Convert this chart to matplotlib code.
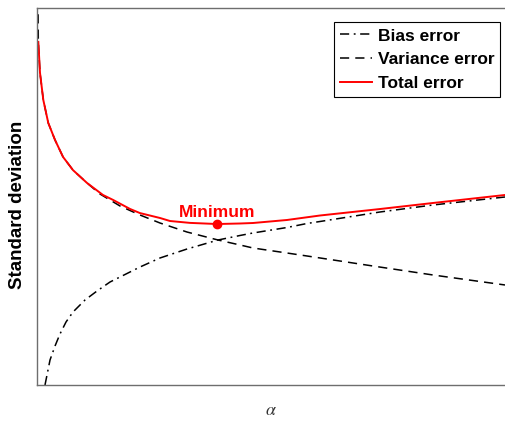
import matplotlib
matplotlib.use("Agg")
import matplotlib.pyplot as plt

plt.rcParams['font.family'] = ['Liberation Sans', 'DejaVu Sans']
plt.rcParams['mathtext.fontset'] = 'stix'

# curves as (alpha, std) pairs, both on a 0-100 scale
alpha_bias = [1.71, 2.78, 3.85, 4.91, 6.20, 7.69, 10.26, 12.82, 15.60, 17.74,
              22.01, 26.28, 32.05, 38.68, 43.38, 46.15, 53.42, 57.69, 60.47,
              73.29, 84.62, 100]
bias = [0.0, 6.63, 10.34, 13.53, 16.71, 19.36, 22.55, 24.93, 27.32, 28.65,
        31.30, 33.69, 36.07, 38.46, 39.66, 40.32, 41.78, 42.84, 43.37,
        45.89, 47.75, 49.87]

alpha_var = [0.06, 0.28, 0.64, 1.35, 2.41, 3.85, 5.56, 7.69, 10.68, 13.46,
             17.74, 22.01, 26.28, 32.05, 38.68, 43.38, 46.15, 53.42, 57.69,
             71.79, 84.62, 100]
variance = [130, 91.0, 82.8, 75.6, 69.5, 65.0, 60.5, 57.0, 53.6, 50.66,
            47.48, 45.09, 42.97, 40.58, 38.46, 37.14, 36.34, 35.01, 34.22,
            31.56, 29.18, 26.53]

alpha_tot = [0.28, 0.64, 1.35, 2.41, 3.85, 5.56, 7.69, 10.68, 14.10, 16.24,
             19.87, 22.01, 26.28, 28.42, 32.69, 38.5, 43.38, 46.15, 53.42,
             60.47, 73.29, 84.62, 100]
total = [91.0, 82.8, 75.6, 69.5, 65.0, 60.5, 57.0, 53.6, 50.4, 49.1,
         46.7, 45.6, 44.3, 43.5, 43.0, 42.7, 42.84, 42.97, 43.77,
         44.96, 46.68, 48.28, 50.4]

min_alpha, min_std = 38.5, 42.7

fig = plt.figure(figsize=(5.05, 4.21), dpi=100)
ax = fig.add_axes([37 / 505, 36 / 421, 468 / 505, 377 / 421])

ax.plot(alpha_bias, bias, color='black', lw=1.1, dashes=(6, 3, 1.2, 3), label='Bias error')
ax.plot(alpha_var, variance, color='black', lw=1.1, dashes=(6, 4), label='Variance error')
ax.plot(alpha_tot, total, color='red', lw=1.4, label='Total error')
ax.plot(min_alpha, min_std, 'o', color='red', ms=6)
ax.text(min_alpha, min_std + 1.9, 'Minimum', color='red', fontsize=12.5,
        fontweight='bold', ha='center', va='baseline')

ax.set_xlim(0, 100)
ax.set_ylim(0, 100)
ax.set_xticks([])
ax.set_yticks([])
for side in ['left', 'bottom', 'top']:
    ax.spines[side].set_color('#6e6e6e')
    ax.spines[side].set_linewidth(1.0)
ax.spines['right'].set_visible(False)

ax.set_xlabel(r'$\alpha$', fontsize=13, color='#333333', labelpad=12)
ax.set_ylabel('Standard deviation', fontsize=13.5, fontweight='bold')
ax.yaxis.set_label_coords(-0.0235, 0.477)

leg = ax.legend(loc='upper right', bbox_to_anchor=(0.99, 0.962), fancybox=False,
                edgecolor='black', framealpha=1, borderaxespad=0,
                prop={'weight': 'bold', 'size': 12.5},
                handlelength=1.84, handletextpad=0.35, labelspacing=0.5,
                borderpad=0.35)
leg.get_frame().set_linewidth(0.8)

fig.savefig('out.png', dpi=100)
